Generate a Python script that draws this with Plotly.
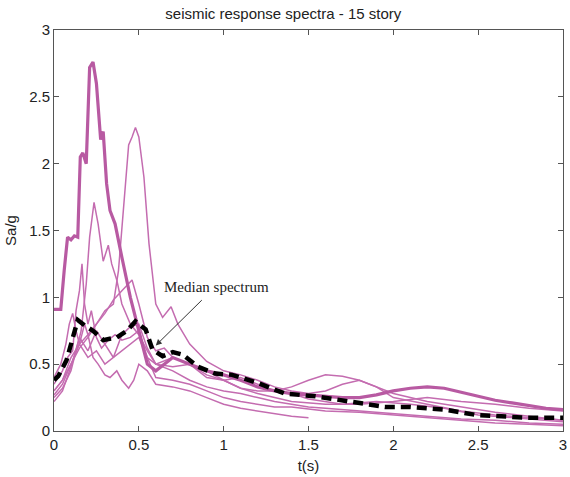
import plotly.graph_objects as go

# Spectra records (period t in s, Sa/g)
rec_a_t = [0, 0.04, 0.06, 0.08, 0.10, 0.12, 0.14, 0.155, 0.17, 0.19, 0.21, 0.23, 0.25, 0.275, 0.29, 0.31, 0.33, 0.36, 0.40, 0.45, 0.50, 0.55, 0.60, 0.65, 0.70, 0.80, 0.90, 1.0, 1.1, 1.2, 1.3, 1.4, 1.5, 1.6, 1.7, 1.8, 1.9, 2.0, 2.1, 2.2, 2.3, 2.4, 2.5, 2.6, 2.7, 2.8, 2.9, 3.0]
rec_a_sa = [0.91, 0.91, 1.2, 1.45, 1.43, 1.46, 1.45, 2.05, 2.08, 2.0, 2.72, 2.76, 2.6, 2.18, 2.24, 1.85, 1.65, 1.55, 1.3, 1.0, 0.75, 0.5, 0.45, 0.5, 0.55, 0.5, 0.45, 0.42, 0.38, 0.33, 0.30, 0.28, 0.27, 0.26, 0.25, 0.25, 0.27, 0.30, 0.32, 0.33, 0.32, 0.29, 0.26, 0.23, 0.21, 0.19, 0.17, 0.16]

rec_b_t = [0, 0.05, 0.1, 0.15, 0.2, 0.25, 0.3, 0.35, 0.38, 0.41, 0.44, 0.46, 0.48, 0.50, 0.53, 0.56, 0.6, 0.64, 0.69, 0.73, 0.8, 0.9, 1.0, 1.1, 1.2, 1.3, 1.4, 1.5, 1.6, 1.7, 1.8, 1.9, 2.0, 2.2, 2.4, 2.6, 2.8, 3.0]
rec_b_sa = [0.3, 0.38, 0.5, 0.65, 0.72, 0.8, 0.9, 0.95, 1.2, 1.7, 2.14, 2.2, 2.27, 2.2, 1.9, 1.4, 0.95, 0.85, 0.93, 0.8, 0.65, 0.52, 0.45, 0.42, 0.38, 0.33, 0.30, 0.28, 0.3, 0.35, 0.38, 0.33, 0.25, 0.2, 0.15, 0.12, 0.1, 0.08]

rec_c_t = [0, 0.05, 0.1, 0.13, 0.16, 0.19, 0.21, 0.236, 0.26, 0.29, 0.32, 0.34, 0.37, 0.40, 0.45, 0.5, 0.55, 0.6, 0.7, 0.8, 0.9, 1.0, 1.1, 1.2, 1.3, 1.4, 1.5, 1.6, 1.8, 2.0, 2.2, 2.4, 2.6, 2.8, 3.0]
rec_c_sa = [0.25, 0.32, 0.45, 0.6, 0.75, 1.1, 1.45, 1.71, 1.55, 1.27, 1.39, 1.25, 1.13, 0.95, 0.8, 0.72, 0.6, 0.5, 0.45, 0.38, 0.33, 0.3, 0.28, 0.25, 0.22, 0.2, 0.18, 0.17, 0.15, 0.13, 0.11, 0.09, 0.08, 0.06, 0.05]

rec_d_t = [0, 0.05, 0.08, 0.11, 0.13, 0.15, 0.165, 0.18, 0.2, 0.22, 0.25, 0.28, 0.32, 0.36, 0.4, 0.45, 0.5, 0.55, 0.6, 0.7, 0.8, 0.9, 1.0, 1.1, 1.2, 1.3, 1.4, 1.5, 1.7, 1.9, 2.1, 2.3, 2.5, 2.7, 3.0]
rec_d_sa = [0.35, 0.45, 0.55, 0.6, 0.9, 1.05, 1.25, 0.95, 0.8, 0.9, 0.7, 0.62, 0.68, 0.72, 0.68, 0.7, 0.75, 0.55, 0.5, 0.55, 0.5, 0.4, 0.38, 0.4, 0.35, 0.3, 0.28, 0.24, 0.2, 0.22, 0.2, 0.17, 0.12, 0.1, 0.07]

rec_e_t = [0, 0.05, 0.1, 0.15, 0.2, 0.25, 0.3, 0.35, 0.4, 0.46, 0.5, 0.55, 0.6, 0.65, 0.7, 0.8, 0.9, 1.0, 1.1, 1.2, 1.3, 1.4, 1.5, 1.6, 1.7, 1.8, 1.9, 2.0, 2.2, 2.4, 2.6, 2.8, 3.0]
rec_e_sa = [0.27, 0.35, 0.5, 0.62, 0.7, 0.8, 0.88, 0.98, 1.05, 1.13, 0.95, 0.7, 0.6, 0.62, 0.55, 0.5, 0.45, 0.38, 0.32, 0.3, 0.3, 0.33, 0.38, 0.42, 0.41, 0.38, 0.33, 0.28, 0.22, 0.18, 0.14, 0.11, 0.08]

rec_f_t = [0, 0.04, 0.07, 0.09, 0.11, 0.13, 0.15, 0.18, 0.2, 0.23, 0.26, 0.3, 0.33, 0.37, 0.4, 0.44, 0.47, 0.5, 0.55, 0.6, 0.7, 0.8, 0.9, 1.0, 1.1, 1.2, 1.3, 1.4, 1.5]
rec_f_sa = [0.4, 0.5, 0.65, 0.8, 0.88, 0.75, 0.65, 0.8, 0.72, 0.55, 0.5, 0.42, 0.4, 0.45, 0.38, 0.32, 0.38, 0.5, 0.45, 0.35, 0.33, 0.3, 0.25, 0.2, 0.17, 0.15, 0.13, 0.11, 0.10]

rec_g_t = [0, 0.05, 0.1, 0.15, 0.2, 0.25, 0.3, 0.35, 0.4, 0.45, 0.5, 0.55, 0.6, 0.7, 0.8, 0.9, 1.0, 1.1, 1.2, 1.3, 1.4, 1.6, 1.8, 2.0, 2.2, 2.4, 2.6, 2.8, 3.0]
rec_g_sa = [0.22, 0.3, 0.48, 0.7, 0.6, 0.75, 0.65, 0.55, 0.72, 0.78, 0.8, 0.62, 0.5, 0.48, 0.5, 0.42, 0.38, 0.32, 0.28, 0.25, 0.22, 0.2, 0.2, 0.22, 0.25, 0.22, 0.2, 0.17, 0.15]

rec_h_t = [0, 0.05, 0.1, 0.15, 0.2, 0.25, 0.3, 0.35, 0.4, 0.45, 0.5, 0.55, 0.6, 0.7, 0.8, 0.9, 1.0, 1.1, 1.2, 1.3, 1.4, 1.6, 1.8, 2.0, 2.2, 2.4, 2.6, 2.8, 3.0]
rec_h_sa = [0.3, 0.38, 0.55, 0.65, 0.55, 0.6, 0.5, 0.55, 0.6, 0.65, 0.7, 0.55, 0.4, 0.38, 0.35, 0.3, 0.25, 0.22, 0.2, 0.18, 0.18, 0.15, 0.14, 0.12, 0.1, 0.08, 0.06, 0.05, 0.04]

median_t = [0, 0.025, 0.074, 0.11, 0.14, 0.18, 0.23, 0.29, 0.37, 0.43, 0.48, 0.54, 0.58, 0.64, 0.70, 0.76, 0.85, 0.95, 1.05, 1.2, 1.36, 1.54, 1.73, 1.95, 2.1, 2.3, 2.49, 2.78, 3.0]
median_sa = [0.38, 0.41, 0.53, 0.70, 0.83, 0.79, 0.75, 0.68, 0.70, 0.75, 0.82, 0.76, 0.61, 0.56, 0.59, 0.57, 0.48, 0.43, 0.42, 0.36, 0.28, 0.26, 0.22, 0.18, 0.18, 0.16, 0.12, 0.10, 0.10]

x_ticks = [0, 0.5, 1, 1.5, 2, 2.5, 3]
y_ticks = [0, 0.5, 1, 1.5, 2, 2.5, 3]

pink = "rgb(196,108,176)"
pink_dark = "rgb(184,90,162)"

fig = go.Figure()
thin = [(rec_b_t, rec_b_sa), (rec_c_t, rec_c_sa), (rec_d_t, rec_d_sa), (rec_e_t, rec_e_sa),
        (rec_f_t, rec_f_sa), (rec_g_t, rec_g_sa), (rec_h_t, rec_h_sa)]
for t, sa in thin:
    fig.add_trace(go.Scatter(x=t, y=sa, mode="lines", line=dict(color=pink, width=1.5), showlegend=False))
fig.add_trace(go.Scatter(x=rec_a_t, y=rec_a_sa, mode="lines", line=dict(color=pink_dark, width=3.2), showlegend=False))
fig.add_trace(go.Scatter(x=median_t, y=median_sa, mode="lines",
                         line=dict(color="black", width=4.5, dash="10px,6px"), showlegend=False))

fig.add_annotation(x=0.96, y=1.08, xref="x", yref="y", text="Median spectrum", showarrow=False,
                   font=dict(family="Liberation Serif", size=15, color="#222"))
fig.add_annotation(x=0.60, y=0.64, xref="x", yref="y", ax=0.88, ay=0.99, axref="x", ayref="y",
                   text="", showarrow=True, arrowhead=2, arrowsize=1.2, arrowwidth=1, arrowcolor="#333")

axis_common = dict(showline=True, linecolor="#555", linewidth=1, mirror="ticks", ticks="inside",
                   ticklen=5, tickcolor="#555", showgrid=False, zeroline=False,
                   ticklabeloverflow="allow",
                   tickfont=dict(family="Liberation Sans", size=15, color="#222"))
fig.update_xaxes(range=[0, 3], tickvals=x_ticks, ticktext=[str(v) for v in x_ticks],
                 title=dict(text="t(s)", font=dict(family="Liberation Sans", size=15, color="#222"), standoff=8),
                 **axis_common)
fig.update_yaxes(range=[0, 3], tickvals=y_ticks, ticktext=[str(v) for v in y_ticks],
                 title=dict(text="Sa/g", font=dict(family="Liberation Sans", size=15, color="#222"), standoff=8),
                 **axis_common)
fig.update_layout(
    width=570, height=477,
    margin=dict(l=54, r=3, t=30, b=46),
    plot_bgcolor="white", paper_bgcolor="white",
    title=dict(text="seismic response spectra - 15 story", xref="container", x=0.497, xanchor="center",
               y=0.972, yanchor="middle",
               font=dict(family="Liberation Sans", size=15, color="#222")),
)
fig.write_html("out.html")
